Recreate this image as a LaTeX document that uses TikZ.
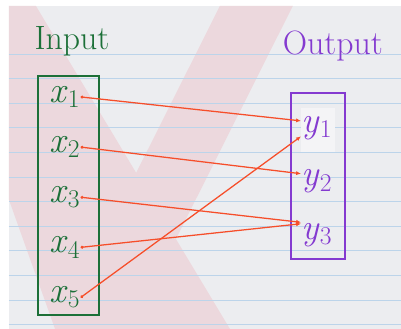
\documentclass[tikz,border=0pt]{standalone}
\usepackage{fontspec}
\usepackage{xcolor}
\usetikzlibrary{arrows.meta,positioning}
\definecolor{inkgreen}{RGB}{28,112,56}
\definecolor{inkpurple}{RGB}{132,58,208}
\definecolor{inkred}{RGB}{246,78,42}
\definecolor{paper}{RGB}{236,237,240}
\definecolor{wash}{RGB}{236,216,221}
\definecolor{ruling}{RGB}{188,212,234}
\newcommand{\elem}[2]{\textit{#1}\textsubscript{#2}}
\tikzset{
  mpbox/.style={draw,line width=1.3pt,inner sep=0pt},
  mptitle/.style={inner sep=0pt,font=\fontsize{24}{24}\selectfont},
  mpelem/.style={inner sep=0pt,minimum height=8mm,font=\fontsize{26}{26}\selectfont},
  mpin/.style={mpelem,text=inkgreen},
  mpout/.style={mpelem,text=inkpurple},
  mparrow/.style={{Circle[length=2pt]}-{Latex[length=3.5pt,width=3pt]},
    line width=0.9pt,draw=inkred},
}
\begin{document}
\begin{tikzpicture}[x=0.025cm,y=-0.025cm,node distance=4.4mm]
% paper, watermark and ruled lines
\fill[white] (0,0) rectangle (401,329);
\fill[paper] (9,6) rectangle (401,329);
\fill[wash] (9,6) -- (36,6) -- (230,329) -- (55,329) -- (9,200) -- cycle;
\fill[wash] (220,6) -- (293,6) -- (131,329) -- (58,329) -- cycle;
\foreach \r in {54,78.6,...,330}
  \draw[ruling,line width=0.4pt] (9,\r) -- (401,\r);
\fill[white!40!paper] (301,108) rectangle (335,152);
% titles
\node[mptitle,text=inkgreen,anchor=base] (intitle) at (72,50) {Input};
\node[mptitle,text=inkpurple,anchor=base] (outtitle) at (333,55) {Output};
% the two sets
\node[mpbox,draw=inkgreen,minimum width=1.525cm,minimum height=5.975cm]
  (inset) at (68.5,195.5) {};
\node[mpbox,draw=inkpurple,minimum width=1.35cm,minimum height=4.15cm]
  (outset) at (318,176) {};
% elements
\node[mpin] (x1) at (65,97) {\elem{x}{1}};
\node[mpin,below=of x1] (x2) {\elem{x}{2}};
\node[mpin,below=of x2] (x3) {\elem{x}{3}};
\node[mpin,below=of x3] (x4) {\elem{x}{4}};
\node[mpin,below=of x4] (x5) {\elem{x}{5}};
\node[mpout] (y1) at (317,128) {\elem{y}{1}};
\node[mpout,below=5.25mm of y1] (y2) {\elem{y}{2}};
\node[mpout,below=5.25mm of y2] (y3) {\elem{y}{3}};
% mapping
\draw[mparrow] (x1.east) -- ([yshift=5pt]y1.west);
\draw[mparrow] (x2.east) -- ([yshift=5.5pt]y2.west);
\draw[mparrow] (x3.east) -- ([yshift=9pt]y3.west);
\draw[mparrow] (x4.east) -- ([yshift=8pt]y3.west);
\draw[mparrow] (x5.east) -- ([yshift=-6pt]y1.west);
\end{tikzpicture}
\end{document}
